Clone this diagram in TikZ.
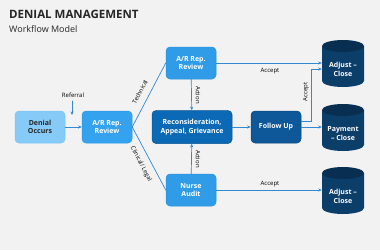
\documentclass[tikz,border=0pt]{standalone}
\usepackage{fontspec}
\setmainfont{Open Sans}
\usepackage{tikz}
\usetikzlibrary{arrows.meta}
\definecolor{bg}{HTML}{F2F2F2}
\definecolor{light}{HTML}{86CBF8}
\definecolor{mid}{HTML}{34A2EE}
\definecolor{deep}{HTML}{0B69B5}
\definecolor{dark}{HTML}{0E5798}
\definecolor{navy}{HTML}{0C3E6A}
\definecolor{navytop}{HTML}{082E52}
\definecolor{wire}{HTML}{3388D2}

\begin{document}
\begin{tikzpicture}[x=1pt, y=-1pt, every path/.style={line cap=round}]

        \tikzset{box/.style = {shape=rectangle, rounded corners=4pt, draw, line width=0.5pt, minimum width=50pt, minimum height=32pt, align=center, text=white, font=\fontsize{7}{8.5}\selectfont\bfseries}}
        \tikzset{storetext/.style = {shape=rectangle, minimum width=42pt, inner sep=0pt, align=center, text=white, font=\fontsize{7}{8.5}\selectfont\bfseries}}
        \tikzset{edge/.style = {draw=wire, line width=0.7pt}}
        \tikzset{tip/.style = {-{Stealth[length=3.5pt, width=3pt]}}}
        \tikzset{lbl/.style = {font=\fontsize{6}{7}\selectfont, text=black, inner sep=1pt}}

        \fill[bg] (0,0) rectangle (380,250);
        \useasboundingbox (0,0) rectangle (380,250);

        % heading
        \node[anchor=west, inner sep=0pt, font=\fontsize{11.5}{12}\selectfont\bfseries, text=black!85] (title) at (9,14) {DENIAL MANAGEMENT};
        \node[anchor=west, inner sep=0pt, font=\fontsize{9}{10}\selectfont, text=black!85] (subtitle) at (9,29) {Workflow Model};

        % boxes
        \node[box, fill=light, draw=light!80!mid, text=black!85] (denial) at (40,127) {Denial\\Occurs};
        \node[box, fill=mid, draw=mid!80!deep] (review) at (107,127) {A/R Rep.\\Review};
        \node[box, fill=mid!90!deep, draw=mid!70!deep] (tech) at (191,63) {A/R Rep.\\Review};
        \node[box, fill=deep, draw=deep!80!black, minimum width=80pt, minimum height=33pt] (appeal) at (192,127) {Reconsideration,\\Appeal, Grievance};
        \node[box, fill=mid!90!deep, draw=mid!70!deep] (nurse) at (191,190) {Nurse\\Audit};
        \node[box, fill=dark, draw=dark!80!black] (follow) at (276,127) {Follow Up};

        % closing drums
        \foreach \name/\y/\txt in {adjtop/63/{Adjust --\\Close}, pay/127/{Payment\\-- Close}, adjbot/190/{Adjust --\\Close}} {
            \fill[navy] (322,\y-17) -- (322,\y+18) arc[start angle=180, end angle=360, x radius=21pt, y radius=6pt] -- (364,\y-17) -- cycle;
            \fill[navytop] (343,\y-17) ellipse[x radius=21pt, y radius=6pt];
            \node[storetext] (\name) at (343,\y+6.5) {\txt};
        }

        % labels
        \node[lbl] (referral) at (73,95) {Referral};
        \node[lbl, rotate=62] (technical) at (140,92) {Technical};
        \node[lbl, rotate=-62] (clinical) at (141,164) {Clinical/ Legal};
        \node[lbl, rotate=-90] (action1) at (198,95) {Action};
        \node[lbl, rotate=-90] (action2) at (198,159) {Action};
        \node[lbl] (accept1) at (270,71) {Accept};
        \node[lbl] (accept3) at (270,184) {Accept};
        \node[lbl, rotate=90] (accept2) at (306,92) {Accept};

        % connectors
        \coordinate (refstart) at (72,101);
        \coordinate (refend) at (72,115);
        \draw[edge, tip] (refstart) to (refend);
        \draw[edge, tip] (denial) to (review);
        \draw[edge] (review.east) to (tech.west);
        \draw[edge] (review.east) to (nurse.west);
        \draw[edge, tip] (tech) to (appeal);
        \draw[edge, tip] (nurse) to (appeal);
        \draw[edge, tip] (appeal) to (follow);
        \draw[edge, tip] (tech) to (tech -| adjtop.west);
        \draw[edge, tip] (nurse) to (nurse -| adjbot.west);
        \draw[edge, tip] (follow) to (follow -| pay.west);
        \draw[edge, tip] ([yshift=6pt]follow.east) -- ++(10,0) |- ([yshift=0.5pt]adjtop.west);

\end{tikzpicture}
\end{document}
